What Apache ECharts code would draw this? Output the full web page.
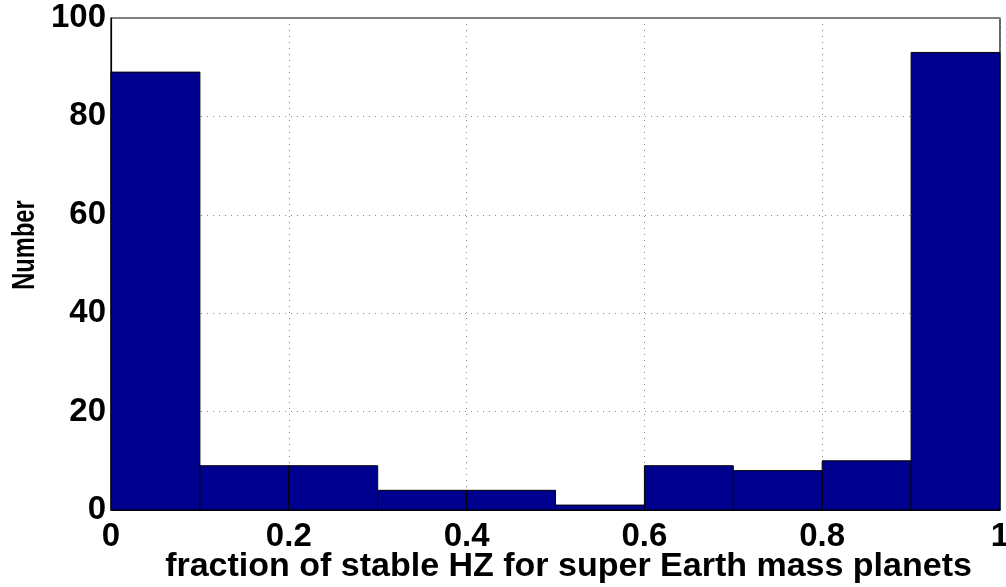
<!DOCTYPE html>
<html lang="en">
<head>
<meta charset="UTF-8">
<title>Histogram</title>
<script src="https://cdn.jsdelivr.net/npm/echarts@6/dist/echarts.min.js"></script>
<style>
  html, body { margin: 0; padding: 0; background: #fff; }
  #main { width: 1006px; height: 587px; }
</style>
</head>
<body>
<div id="main"></div>
<script>
// histogram bins (left, right) and counts
const binStarts = [0, 0.1, 0.2, 0.3, 0.4, 0.5, 0.6, 0.7, 0.8, 0.9];
const binEnds = [0.1, 0.2, 0.3, 0.4, 0.5, 0.6, 0.7, 0.8, 0.9, 1.0];
const counts = [89, 9, 9, 4, 4, 1, 9, 8, 10, 93];

const xTitle = 'fraction of stable HZ for super Earth mass planets';
const yTitle = 'Number';

const font = '"Liberation Sans", Arial, Helvetica, sans-serif';

let chartDom = document.getElementById('main');
let myChart = echarts.init(chartDom, null, { renderer: 'canvas' });

const data = counts.map((c, i) => [binStarts[i], binEnds[i], c]);

let option = {
  animation: false,
  backgroundColor: '#fff',
  grid: {
    left: 111, right: 6, top: 18, bottom: 77,
    outerBoundsMode: 'none',
    containLabel: false,
    show: true, borderColor: '#000', borderWidth: 1.2
  },
  // y title is squeezed along its length in the original, so draw it as a scaled text
  graphic: [{
    type: 'text',
    x: 25, y: 245,
    rotation: Math.PI / 2,
    scaleX: 0.74,
    style: {
      text: yTitle,
      font: 'bold 32px ' + font,
      fill: '#000',
      align: 'center',
      verticalAlign: 'middle'
    }
  }],
  xAxis: {
    type: 'value',
    min: 0, max: 1, interval: 0.2,
    name: xTitle,
    nameLocation: 'middle',
    nameGap: 40,
    nameMoveOverlap: false,
    nameTextStyle: { fontFamily: font, fontWeight: 'bold', fontSize: 34, color: '#000', padding: [0, 0, 0, 26] },
    axisLine: { show: true, onZero: false, lineStyle: { color: '#000', width: 1.2 } },
    axisTick: { show: false },
    axisLabel: {
      fontFamily: font, fontWeight: 'bold', fontSize: 33, color: '#000', margin: 10,
      formatter: v => String(Math.round(v * 10) / 10)
    },
    splitLine: { show: true, lineStyle: { color: '#888', type: [1, 5], width: 1 } }
  },
  yAxis: {
    type: 'value',
    min: 0, max: 100, interval: 20,
    axisLine: { show: true, lineStyle: { color: '#000', width: 1.2 } },
    axisTick: { show: false },
    axisLabel: { fontFamily: font, fontWeight: 'bold', fontSize: 33, color: '#000', margin: 5, padding: [6, 0, 0, 0] },
    splitLine: { show: true, lineStyle: { color: '#888', type: [1, 5], width: 1 } }
  },
  series: [{
    type: 'custom',
    data: data,
    encode: { x: [0, 1], y: 2 },
    renderItem: function (params, api) {
      const p0 = api.coord([api.value(0), api.value(2)]);
      const p1 = api.coord([api.value(1), 0]);
      return {
        type: 'rect',
        shape: { x: p0[0], y: p0[1], width: p1[0] - p0[0], height: p1[1] - p0[1] },
        style: { fill: '#00008F', stroke: '#000', lineWidth: 1 }
      };
    }
  }]
};

option && myChart.setOption(option);
</script>
</body>
</html>
